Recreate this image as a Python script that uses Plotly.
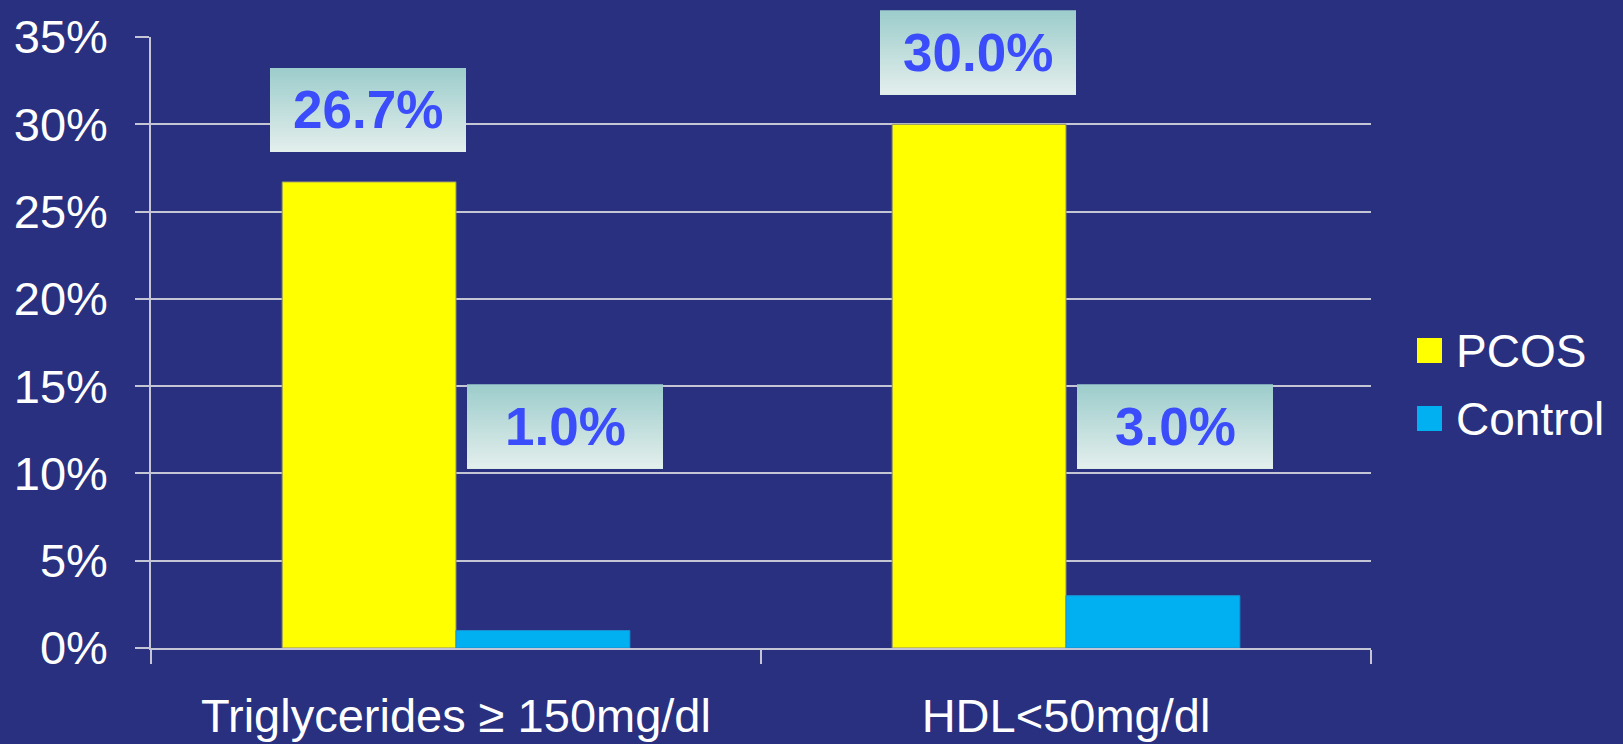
import plotly.graph_objects as go

# ---- data -------------------------------------------------------------
categories = ["Triglycerides ≥ 150mg/dl", "HDL<50mg/dl"]
pcos = [26.7, 30.0]
control = [1.0, 3.0]
pcos_labels = ["26.7%", "30.0%"]
control_labels = ["1.0%", "3.0%"]
y_tickvals = [0, 5, 10, 15, 20, 25, 30, 35]
y_ticktext = ["0%", "5%", "10%", "15%", "20%", "25%", "30%", "35%"]
Y_MAX = 35

# ---- style ------------------------------------------------------------
W, H = 1623, 744
M_L, M_R, M_T, M_B = 151, 252, 37, 96
BG = "#28307f"
GRID = "#c4c6d6"
YELLOW = "#ffff00"
CYAN = "#00b0f0"
LABEL_BLUE = "#3b4cfb"
FONT = "Liberation Sans, Arial, sans-serif"
BOX_W, BOX_H = 196, 84
BOX_TOP = (157, 205, 204)
BOX_BOTTOM = (226, 238, 236)
CONTROL_BOX_Y = 10.3      # control value boxes sit at a common height

plot_w = W - M_L - M_R
plot_h = H - M_T - M_B


def paper_x(px):
    return (px - M_L) / plot_w


def paper_y(py):
    return (H - M_B - py) / plot_h


def cat_paper(i):
    """Paper x of a category centre on the evenly spaced category axis."""
    return (i + 0.5) / len(categories)


fig = go.Figure()
fig.add_bar(x=categories, y=pcos, name="PCOS",
            marker=dict(color=YELLOW, line=dict(color="#8c8c70", width=1)))
fig.add_bar(x=categories, y=control, name="Control",
            marker=dict(color=CYAN, line=dict(color="#1c8fd0", width=1)))

shapes = []
annotations = []


def value_box(i, xshift, yval, yoff, text):
    """Gradient-filled label box anchored to a value (pixel offsets)."""
    xa = cat_paper(i)
    ya = yval / Y_MAX
    n = 28
    step = BOX_H / n
    for k in range(n):
        t = k / (n - 1)
        r = round(BOX_TOP[0] + (BOX_BOTTOM[0] - BOX_TOP[0]) * t)
        g = round(BOX_TOP[1] + (BOX_BOTTOM[1] - BOX_TOP[1]) * t)
        b = round(BOX_TOP[2] + (BOX_BOTTOM[2] - BOX_TOP[2]) * t)
        top = yoff + BOX_H - k * step
        # each band reaches the box bottom; later bands paint over the rest
        shapes.append(dict(
            type="rect", xref="paper", yref="paper",
            xsizemode="pixel", ysizemode="pixel",
            xanchor=xa, yanchor=ya,
            x0=xshift - BOX_W / 2, x1=xshift + BOX_W / 2,
            y0=yoff, y1=top,
            fillcolor=f"rgb({r},{g},{b})", line=dict(width=0), layer="above"))
    annotations.append(dict(
        x=xa, y=ya, xref="paper", yref="paper", text=f"<b>{text}</b>",
        showarrow=False, xshift=xshift, yshift=yoff + BOX_H / 2,
        xanchor="center", yanchor="middle",
        font=dict(family=FONT, size=53, color=LABEL_BLUE)))


for i in range(len(categories)):
    value_box(i, -88, pcos[i], 30, pcos_labels[i])
    value_box(i, 109, CONTROL_BOX_Y, 0, control_labels[i])

# legend drawn with large swatches
legend_rows = [("PCOS", YELLOW, 350.5), ("Control", CYAN, 418.5)]
for name, color, cy in legend_rows:
    shapes.append(dict(type="rect", xref="paper", yref="paper",
                       x0=paper_x(1417), x1=paper_x(1442),
                       y0=paper_y(cy + 12.5), y1=paper_y(cy - 12.5),
                       fillcolor=color, line=dict(width=0)))
    annotations.append(dict(x=paper_x(1454), y=paper_y(cy), xref="paper",
                            yref="paper", text=name, showarrow=False,
                            xanchor="left", yanchor="middle",
                            font=dict(family=FONT, size=46, color="white")))

fig.update_layout(
    width=W, height=H,
    margin=dict(l=M_L, r=M_R, t=M_T, b=M_B, pad=0, autoexpand=False),
    paper_bgcolor=BG, plot_bgcolor=BG,
    barmode="group", bargap=0.43, bargroupgap=0,
    showlegend=False,
    shapes=shapes, annotations=annotations,
    font=dict(family=FONT, color="white"),
)
fig.update_xaxes(
    automargin=False,
    showline=True, linecolor=GRID, linewidth=1.5,
    ticks="outside", tickson="boundaries", ticklen=14,
    tickcolor=GRID, tickwidth=1.5,
    tickfont=dict(family=FONT, size=47, color="white"),
    ticklabelstandoff=26, showgrid=False,
)
fig.update_yaxes(
    automargin=False,
    range=[0, Y_MAX], tickvals=y_tickvals, ticktext=y_ticktext,
    showline=True, linecolor=GRID, linewidth=1.5,
    ticks="outside", ticklen=14, tickcolor=GRID, tickwidth=1.5,
    showgrid=True, gridcolor=GRID, gridwidth=1.5, zeroline=False,
    tickfont=dict(family=FONT, size=47, color="white"),
    ticklabelstandoff=18,
)

fig.write_html("out.html")
